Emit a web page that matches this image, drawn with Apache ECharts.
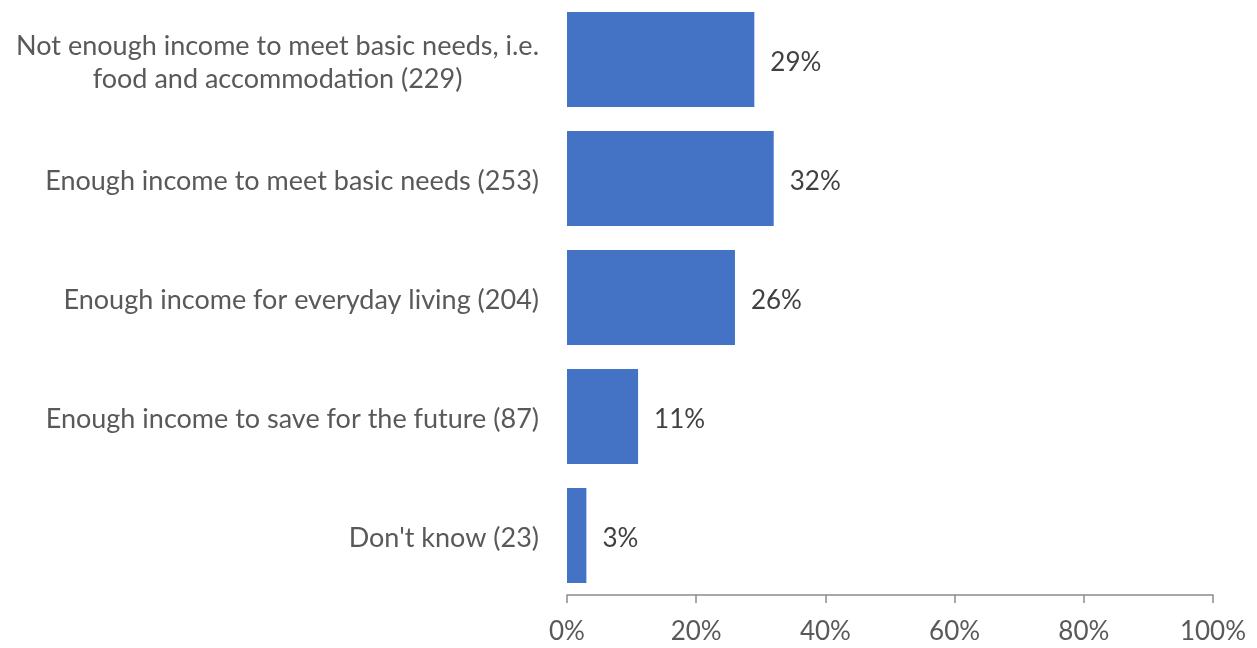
<!DOCTYPE html>
<html>
<head>
<meta charset="utf-8">
<style>
  html, body { margin: 0; padding: 0; background: #fff; }
  #chart { width: 1257px; height: 648px; }
</style>
<script src="https://cdn.jsdelivr.net/npm/echarts@6/dist/echarts.min.js"></script>
</head>
<body>
<div id="chart"></div>
<script>
// Income adequacy responses, shown top to bottom
const categories = [
  'Not enough income to meet basic needs, i.e.\nfood and accommodation (229)',
  'Enough income to meet basic needs (253)',
  'Enough income for everyday living (204)',
  'Enough income to save for the future (87)',
  "Don't know (23)"
];
const shares = [29, 32, 26, 11, 3];
const xTicks = [0, 20, 40, 60, 80, 100];

const FONT = 'Lato';
const chart = echarts.init(document.getElementById('chart'), null, { renderer: 'canvas' });

chart.setOption({
  animation: false,
  textStyle: { fontFamily: FONT },
  grid: { left: 567, right: 44, top: 0, bottom: 53, containLabel: false },
  xAxis: {
    type: 'value',
    min: xTicks[0],
    max: xTicks[xTicks.length - 1],
    interval: xTicks[1] - xTicks[0],
    axisLine: { show: true, lineStyle: { color: '#8c8c8c', width: 1.5 } },
    axisTick: { show: true, length: 8, lineStyle: { color: '#8c8c8c', width: 1.5 } },
    splitLine: { show: false },
    axisLabel: {
      formatter: v => v + '%',
      color: '#595959',
      fontSize: 26,
      fontFamily: FONT,
      margin: 24
    }
  },
  yAxis: {
    type: 'category',
    inverse: true,
    data: categories,
    axisLine: { show: false },
    axisTick: { show: false },
    axisLabel: {
      color: '#595959',
      fontSize: 27,
      fontFamily: FONT,
      margin: 28,
      lineHeight: 33,
      padding: [6, 0, 0, 0],
      formatter: v => v.split('\n').map(s => '{c|' + s + '}').join('\n'),
      rich: { c: { align: 'center', color: '#595959', fontSize: 27, fontFamily: FONT, lineHeight: 33 } }
    }
  },
  series: [{
    type: 'bar',
    data: shares,
    barCategoryGap: '20%',
    itemStyle: { color: '#4472c4' },
    label: {
      show: true,
      position: 'right',
      distance: 16,
      offset: [0, 3],
      formatter: p => p.value + '%',
      color: '#404040',
      fontSize: 26,
      fontFamily: FONT
    }
  }]
});
</script>
</body>
</html>
